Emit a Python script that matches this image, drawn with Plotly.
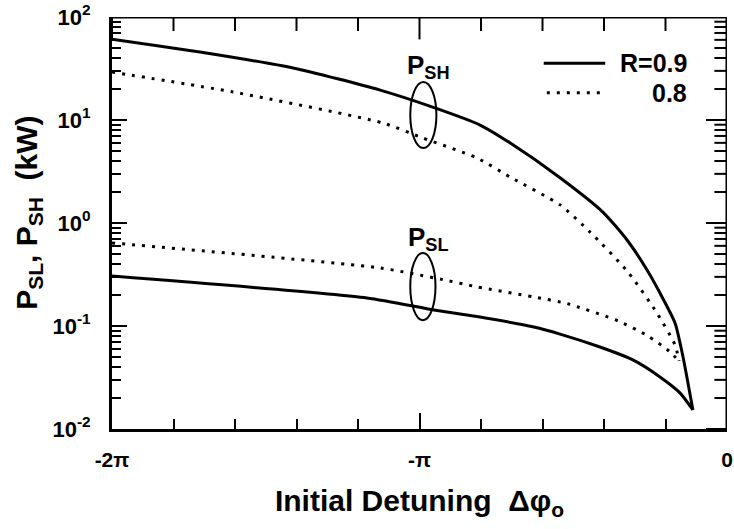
import plotly.graph_objects as go

# x values in units of pi (detuning / pi)
x_sh_09 = [-2.0, -1.714, -1.411, -1.128, -0.95, -0.803, -0.706, -0.543, -0.403, -0.325, -0.26, -0.218, -0.169, -0.143, -0.111]
y_sh_09 = [61, 45.7, 32, 19.5, 13.1, 8.93, 6.0, 2.75, 1.27, 0.684, 0.35, 0.209, 0.107, 0.050, 0.0153]

x_sl_09 = [-2.0, -1.171, -0.953, -0.803, -0.628, -0.543, -0.413, -0.306, -0.218, -0.153, -0.111]
y_sl_09 = [0.305, 0.187, 0.143, 0.122, 0.0977, 0.0835, 0.0625, 0.0468, 0.032, 0.0224, 0.0153]

x_sh_08 = [-2.0, -1.606, -1.119, -0.989, -0.813, -0.706, -0.543, -0.446, -0.322, -0.228, -0.169, -0.156]
y_sh_08 = [29.2, 18.7, 9.35, 6.68, 4.28, 2.8, 1.5, 0.82, 0.334, 0.134, 0.0655, 0.0457]

x_sl_08 = [-2.0, -1.128, -0.924, -0.813, -0.628, -0.52, -0.354, -0.257, -0.189, -0.156]
y_sl_08 = [0.64, 0.366, 0.282, 0.240, 0.191, 0.165, 0.112, 0.080, 0.0572, 0.0457]

x_range = [-2, 0]
y_range_vals = [0.01, 100]
x_tickvals = [-2, -1, 0]
x_ticktext = ["-2\u03c0", "-\u03c0", "0"]
x_minor_vals = [-1.8, -1.6, -1.4, -1.2, -0.8, -0.6, -0.4, -0.2]
y_tickvals = [0.01, 0.1, 1, 10, 100]
y_ticktext = ["10<sup>-2</sup>", "10<sup>-1</sup>", "10<sup>0</sup>", "10<sup>1</sup>", "10<sup>2</sup>"]
y_minor_vals = [m * d for d in (0.01, 0.1, 1, 10) for m in range(2, 10)]

legend_labels = ["R=0.9", "0.8"]

FONT = "Liberation Sans"
BLACK = "#000000"
dotdash = "3px,7px"

fig = go.Figure()
for xs, ys, dash in [(x_sh_09, y_sh_09, "solid"), (x_sl_09, y_sl_09, "solid"),
                     (x_sh_08, y_sh_08, dotdash), (x_sl_08, y_sl_08, dotdash)]:
    fig.add_trace(go.Scatter(x=xs, y=ys, mode="lines",
                             line=dict(color=BLACK, width=3, dash=dash, shape="spline", smoothing=0.6),
                             showlegend=False, hoverinfo="skip"))

# top and right frame edges built from the axis extents
fig.add_trace(go.Scatter(x=[x_range[0], x_range[1], x_range[1]],
                         y=[y_range_vals[1], y_range_vals[1], y_range_vals[0]],
                         mode="lines", line=dict(color=BLACK, width=3), cliponaxis=False,
                         showlegend=False, hoverinfo="skip"))
# mirrored inward ticks on the top and right edges (half of each marker is clipped away)
fig.add_trace(go.Scatter(x=x_tickvals, y=[y_range_vals[1]] * len(x_tickvals), mode="markers", cliponaxis=True,
                         marker=dict(symbol="line-ns", size=32, line=dict(width=2, color=BLACK)),
                         showlegend=False, hoverinfo="skip"))
fig.add_trace(go.Scatter(x=x_minor_vals, y=[y_range_vals[1]] * len(x_minor_vals), mode="markers", cliponaxis=True,
                         marker=dict(symbol="line-ns", size=20, line=dict(width=2, color=BLACK)),
                         showlegend=False, hoverinfo="skip"))
fig.add_trace(go.Scatter(x=[x_range[1]] * len(y_tickvals), y=y_tickvals, mode="markers", cliponaxis=True,
                         marker=dict(symbol="line-ew", size=30, line=dict(width=2, color=BLACK)),
                         showlegend=False, hoverinfo="skip"))
fig.add_trace(go.Scatter(x=[x_range[1]] * len(y_minor_vals), y=y_minor_vals, mode="markers", cliponaxis=True,
                         marker=dict(symbol="line-ew", size=18, line=dict(width=2, color=BLACK)),
                         showlegend=False, hoverinfo="skip"))

# ring markers around the curve pairs
fig.add_shape(type="circle", xref="x", yref="y", x0=-1.03, x1=-0.945, y0=5.35, y1=23.4,
              line=dict(color=BLACK, width=2))
fig.add_shape(type="circle", xref="x", yref="y", x0=-1.03, x1=-0.948, y0=0.114, y1=0.512,
              line=dict(color=BLACK, width=2))

fig.add_annotation(x=-0.972, y=1.524, xref="x", yref="y", text="P<sub>SH</sub>", showarrow=False,
                   font=dict(family=FONT, size=26, color=BLACK, weight="bold"))
fig.add_annotation(x=-0.972, y=-0.146, xref="x", yref="y", text="P<sub>SL</sub>", showarrow=False,
                   font=dict(family=FONT, size=26, color=BLACK, weight="bold"))

# manual legend
fig.add_shape(type="line", xref="paper", yref="paper", x0=0.702, x1=0.802, y0=0.888, y1=0.888,
              line=dict(color=BLACK, width=3))
fig.add_shape(type="line", xref="paper", yref="paper", x0=0.707, x1=0.800, y0=0.816, y1=0.816,
              line=dict(color=BLACK, width=3, dash=dotdash))
fig.add_annotation(x=0.938, y=0.888, xref="paper", yref="paper", text=legend_labels[0], showarrow=False,
                   xanchor="right", yanchor="middle", font=dict(family=FONT, size=25, color=BLACK, weight="bold"))
fig.add_annotation(x=0.938, y=0.816, xref="paper", yref="paper", text=legend_labels[1], showarrow=False,
                   xanchor="right", yanchor="middle", font=dict(family=FONT, size=25, color=BLACK, weight="bold"))

# y axis title
fig.add_annotation(x=-0.137, y=0.524, xref="paper", yref="paper", textangle=-90,
                   text="P<sub>SL</sub>, P<sub>SH</sub>  (kW)", showarrow=False,
                   xanchor="center", yanchor="middle",
                   font=dict(family=FONT, size=30, color=BLACK, weight="bold"))

xminor = dict(dtick=0.2, tick0=0, ticks="inside", ticklen=10, tickwidth=2, tickcolor=BLACK)
yminor = dict(dtick="D1", ticks="inside", ticklen=9, tickwidth=2, tickcolor=BLACK)

fig.update_layout(
    width=734, height=529,
    margin=dict(l=112, r=7, t=17, b=100),
    paper_bgcolor="white", plot_bgcolor="white",
    font=dict(family=FONT, color=BLACK),
    xaxis=dict(range=x_range, tickmode="array", tickvals=x_tickvals, ticktext=x_ticktext,
               ticks="inside", ticklen=16, tickwidth=2, tickcolor=BLACK, automargin=False,
               minor=xminor, showline=True, linewidth=3, linecolor=BLACK,
               showgrid=False, zeroline=False,
               tickfont=dict(family=FONT, size=21, color=BLACK, weight="bold"), ticklabelstandoff=10,
               title=dict(text="Initial Detuning  \u0394\u03c6<sub>o</sub>", standoff=20,
                          font=dict(family=FONT, size=30, color=BLACK, weight="bold"))),
    yaxis=dict(type="log", range=[-2, 2], tickmode="array", tickvals=y_tickvals, ticktext=y_ticktext,
               ticks="inside", ticklen=15, tickwidth=2, tickcolor=BLACK, automargin=False,
               minor=yminor, showline=True, linewidth=3, linecolor=BLACK,
               showgrid=False, zeroline=False,
               tickfont=dict(family=FONT, size=22, color=BLACK, weight="bold"), ticklabelstandoff=14),
)

fig.write_html("out.html", config={"displayModeBar": False},
               post_script="document.body.style.margin='0';document.body.style.padding='0';")
